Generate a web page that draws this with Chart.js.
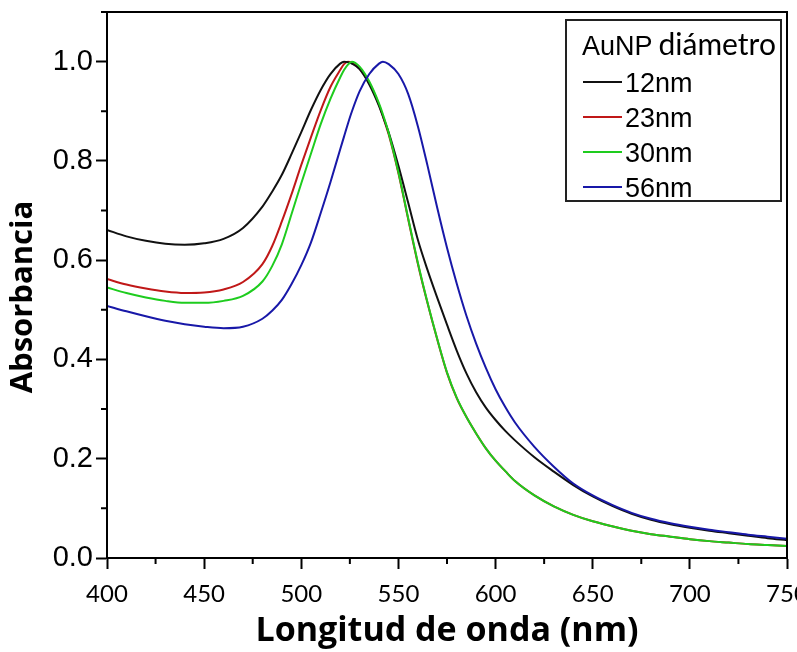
<!DOCTYPE html>
<html>
<head>
<meta charset="utf-8">
<script src="https://cdn.jsdelivr.net/npm/chart.js@4"></script>
<style>
  html, body { margin: 0; padding: 0; background: #fff; }
  #wrap { width: 797px; height: 652px; }
</style>
</head>
<body>
<div id="wrap"><canvas id="absChart" width="797" height="652"></canvas></div>
<script>
// wavelength (nm)
var wavelengths = [400,410,420,430,440,450,460,470,480,485,490,495,500,505,510,515,520,522,524,526,530,535,540,542,545,550,555,560,565,570,575,580,585,590,595,600,605,610,620,630,640,650,660,670,680,690,700,710,720,730,740,750];

var abs12 = [.661,.648,.639,.633,.631,.634,.643,.665,.708,.738,.772,.814,.858,.903,.943,.975,.996,1.0,.999,.996,.985,.954,.911,.89,.857,.79,.716,.641,.58,.524,.47,.418,.372,.334,.303,.278,.256,.237,.203,.174,.147,.124,.105,.089,.077,.068,.061,.055,.05,.045,.04,.036];
var abs23 = [.562,.551,.543,.537,.534,.535,.541,.556,.592,.628,.678,.733,.792,.848,.902,.949,.983,.995,1.0,.998,.986,.957,.913,.89,.853,.775,.683,.593,.513,.44,.373,.322,.284,.251,.221,.196,.175,.155,.126,.104,.087,.074,.064,.055,.048,.043,.038,.034,.031,.028,.026,.024];
var abs30 = [.545,.534,.525,.518,.514,.514,.518,.528,.557,.588,.632,.693,.755,.815,.874,.925,.968,.983,.994,1.0,.99,.96,.916,.894,.856,.777,.685,.595,.514,.441,.374,.323,.284,.251,.221,.196,.175,.155,.126,.104,.087,.074,.064,.055,.048,.043,.038,.034,.031,.028,.026,.024];
var abs56 = [.508,.497,.487,.478,.471,.466,.463,.466,.482,.498,.52,.552,.59,.636,.695,.757,.823,.849,.875,.899,.94,.975,.996,1.0,.995,.975,.935,.87,.79,.705,.625,.553,.488,.432,.383,.340,.304,.273,.224,.184,.150,.126,.107,.091,.079,.07,.063,.057,.052,.047,.043,.039];

var seriesNames = ["12nm", "23nm", "30nm", "56nm"];
var seriesColors = ["#111111", "#c01818", "#1ecc1e", "#1818a8"];
var legendTitle = ["AuNP", "diámetro"];

var xMinor = [425, 475, 525, 575, 625, 675, 725];
var yMinor = [0.1, 0.3, 0.5, 0.7, 0.9, 1.1];

function pts(vals) {
    return vals.map(function (v, i) { return {x: wavelengths[i], y: v}; });
}

var frame = {
    id: 'frame',
    afterDraw: function (chart) {
        var ctx = chart.ctx, a = chart.chartArea;
        var x = chart.scales.x, y = chart.scales.y;
        ctx.save();
        ctx.strokeStyle = '#000';
        ctx.lineWidth = 2;
        ctx.strokeRect(a.left, a.top, a.right - a.left, a.bottom - a.top);
        ctx.beginPath();
        xMinor.forEach(function (v) {
            var px = x.getPixelForValue(v);
            ctx.moveTo(px, a.bottom);
            ctx.lineTo(px, a.bottom + 6);
        });
        yMinor.forEach(function (v) {
            var py = y.getPixelForValue(v);
            ctx.moveTo(a.left, py);
            ctx.lineTo(a.left - 6, py);
        });
        ctx.stroke();

        // legend box
        var bx = 566, by = 20, bw = 215, bh = 181;
        ctx.fillStyle = '#fff';
        ctx.fillRect(bx, by, bw, bh);
        ctx.strokeStyle = '#222';
        ctx.lineWidth = 2;
        ctx.strokeRect(bx, by, bw, bh);
        ctx.fillStyle = '#000';
        ctx.textBaseline = 'alphabetic';
        ctx.textAlign = 'left';
        ctx.font = '27px "Liberation Sans", Arial, sans-serif';
        ctx.fillText(legendTitle[0], 582, 55);
        var w = ctx.measureText(legendTitle[0]).width + 6;
        ctx.font = '30px Lato, sans-serif';
        ctx.fillText(legendTitle[1], 582 + w, 55);
        ctx.font = '27px "Liberation Sans", Arial, sans-serif';
        chart.data.datasets.forEach(function (ds, i) {
            var cy = 82 + i * 35;
            ctx.strokeStyle = ds.borderColor;
            ctx.lineWidth = 2;
            ctx.beginPath();
            ctx.moveTo(583, cy);
            ctx.lineTo(622, cy);
            ctx.stroke();
            ctx.fillStyle = '#000';
            ctx.fillText(ds.label, 625, cy + 10);
        });
        ctx.restore();
    }
};

var drawOrder = [2, 3, 1, 0];
var allVals = [abs12, abs23, abs30, abs56];

new Chart(document.getElementById("absChart").getContext("2d"), {
    type: "line",
    data: {
        datasets: allVals.map(function (vals, i) {
            return {
                label: seriesNames[i],
                data: pts(vals),
                borderColor: seriesColors[i],
                borderWidth: 2,
                pointRadius: 0,
                fill: false,
                cubicInterpolationMode: 'monotone',
                order: drawOrder[i]
            };
        })
    },
    options: {
        responsive: false,
        animation: false,
        layout: { padding: { top: 12, right: 10, left: 0, bottom: 0 } },
        plugins: {
            legend: { display: false },
            tooltip: { enabled: false }
        },
        scales: {
            x: {
                type: 'linear',
                min: 400,
                max: 750,
                afterFit: function (s) { s.height = 94; s.paddingLeft = 0; s.paddingRight = 0; },
                border: { display: true, color: '#000', width: 2 },
                grid: { drawOnChartArea: false, drawTicks: true, tickLength: 11, tickColor: '#000', tickWidth: 2 },
                ticks: {
                    stepSize: 50,
                    padding: 11,
                    color: '#000',
                    maxRotation: 0,
                    autoSkip: false,
                    font: { family: 'Lato', size: 24 }
                },
                title: {
                    display: true,
                    text: 'Longitud de onda (nm)',
                    color: '#000',
                    padding: { top: 0, bottom: 0 },
                    font: { family: 'Open Sans', size: 34, weight: 'bold' }
                }
            },
            y: {
                min: 0,
                max: 1.1,
                afterFit: function (s) { s.width = 107; s.paddingTop = 0; s.paddingBottom = 0; },
                border: { display: true, color: '#000', width: 2 },
                grid: { drawOnChartArea: false, drawTicks: true, tickLength: 11, tickColor: '#000', tickWidth: 2 },
                ticks: {
                    stepSize: 0.2,
                    includeBounds: false,
                    padding: 3,
                    color: '#000',
                    font: { family: 'Liberation Sans', size: 29 },
                    callback: function (v) { return v.toFixed(1); }
                },
                title: {
                    display: true,
                    text: 'Absorbancia   ',
                    color: '#000',
                    padding: { top: 5, bottom: 0 },
                    font: { family: 'Open Sans', size: 31, weight: 'bold' }
                }
            }
        }
    },
    plugins: [frame]
});
</script>
</body>
</html>
